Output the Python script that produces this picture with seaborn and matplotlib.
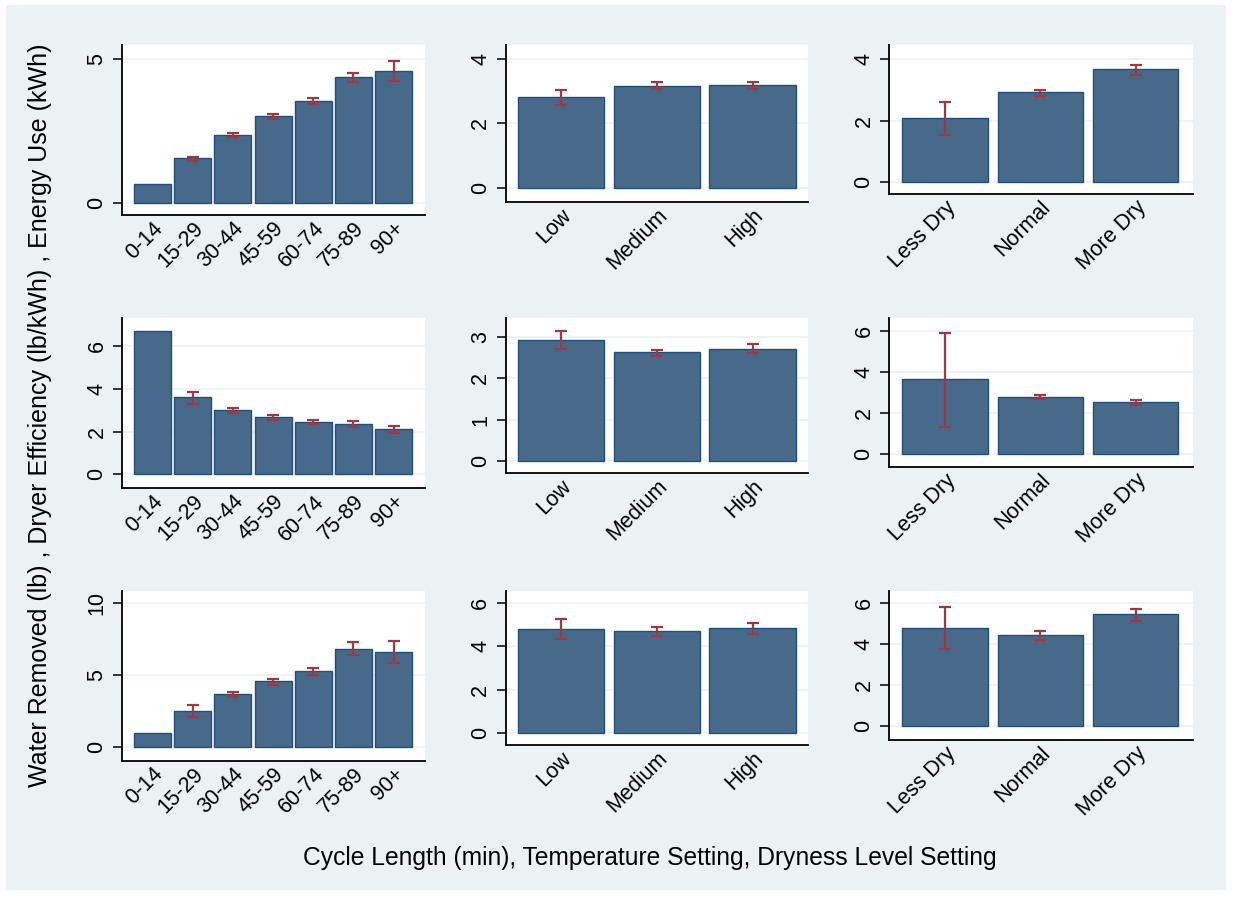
import pandas as pd
import matplotlib.pyplot as plt
import seaborn as sns
from matplotlib.patches import Rectangle

# Categories
cycle_cats = ['0-14', '15-29', '30-44', '45-59', '60-74', '75-89', '90+']
temp_cats = ['Low', 'Medium', 'High']
dry_cats = ['Less Dry', 'Normal', 'More Dry']

# Energy Use (kWh): mean, lower CI, upper CI
energy_cycle = [0.65, 1.55, 2.36, 3.01, 3.55, 4.38, 4.60]
energy_cycle_lo = [0.65, 1.47, 2.28, 2.92, 3.44, 4.20, 4.26]
energy_cycle_hi = [0.65, 1.60, 2.42, 3.10, 3.66, 4.53, 4.93]
energy_temp = [2.81, 3.17, 3.20]
energy_temp_lo = [2.59, 3.08, 3.08]
energy_temp_hi = [3.03, 3.29, 3.29]
energy_dry = [2.07, 2.92, 3.67]
energy_dry_lo = [1.53, 2.81, 3.50]
energy_dry_hi = [2.62, 3.01, 3.83]

# Dryer Efficiency (lb/kWh)
eff_cycle = [6.69, 3.60, 3.01, 2.66, 2.45, 2.34, 2.10]
eff_cycle_lo = [6.69, 3.27, 2.88, 2.54, 2.35, 2.20, 1.92]
eff_cycle_hi = [6.69, 3.86, 3.12, 2.77, 2.52, 2.49, 2.27]
eff_temp = [2.93, 2.63, 2.71]
eff_temp_lo = [2.71, 2.54, 2.62]
eff_temp_hi = [3.15, 2.70, 2.83]
eff_dry = [3.64, 2.76, 2.52]
eff_dry_lo = [1.33, 2.67, 2.37]
eff_dry_hi = [5.92, 2.86, 2.62]

# Water Removed (lb)
water_cycle = [1.02, 2.50, 3.70, 4.58, 5.30, 6.85, 6.60]
water_cycle_lo = [1.02, 2.13, 3.52, 4.33, 5.02, 6.41, 5.86]
water_cycle_hi = [1.02, 2.92, 3.84, 4.77, 5.51, 7.34, 7.41]
water_temp = [4.79, 4.70, 4.84]
water_temp_lo = [4.33, 4.50, 4.58]
water_temp_hi = [5.29, 4.90, 5.07]
water_dry = [4.81, 4.43, 5.46]
water_dry_lo = [3.76, 4.19, 5.15]
water_dry_hi = [5.82, 4.63, 5.72]

y_ticks = {
    (0, 0): [0, 5], (0, 1): [0, 2, 4], (0, 2): [0, 2, 4],
    (1, 0): [0, 2, 4, 6], (1, 1): [0, 1, 2, 3], (1, 2): [0, 2, 4, 6],
    (2, 0): [0, 5, 10], (2, 1): [0, 2, 4, 6], (2, 2): [0, 2, 4, 6],
}
y_lims = {
    (0, 0): (-0.43, 5.5), (0, 1): (-0.436, 4.445), (0, 2): (-0.41, 4.467),
    (1, 0): (-0.655, 7.3), (1, 1): (-0.29, 3.46), (1, 2): (-0.65, 6.63),
    (2, 0): (-0.93, 10.875), (2, 1): (-0.57, 6.58), (2, 2): (-0.70, 6.62),
}

panels = [
    [(cycle_cats, energy_cycle, energy_cycle_lo, energy_cycle_hi),
     (temp_cats, energy_temp, energy_temp_lo, energy_temp_hi),
     (dry_cats, energy_dry, energy_dry_lo, energy_dry_hi)],
    [(cycle_cats, eff_cycle, eff_cycle_lo, eff_cycle_hi),
     (temp_cats, eff_temp, eff_temp_lo, eff_temp_hi),
     (dry_cats, eff_dry, eff_dry_lo, eff_dry_hi)],
    [(cycle_cats, water_cycle, water_cycle_lo, water_cycle_hi),
     (temp_cats, water_temp, water_temp_lo, water_temp_hi),
     (dry_cats, water_dry, water_dry_lo, water_dry_hi)],
]

sns.set_style('white')
plt.rcParams['font.family'] = ['Liberation Sans', 'DejaVu Sans']
plt.rcParams['text.color'] = 'black'
plt.rcParams['xtick.color'] = 'black'
plt.rcParams['ytick.color'] = 'black'
plt.rcParams['axes.labelcolor'] = 'black'

W, H = 1233, 897
fig = plt.figure(figsize=(W / 100, H / 100), dpi=100, facecolor='white')
bg = Rectangle((6 / W, 1 - 890 / H), 1220 / W, 885 / H,
               transform=fig.transFigure, facecolor='#eaf2f3',
               edgecolor='none', zorder=-5)
fig.patches.append(bg)

# axes boxes in pixels: x0, x1 per column; (top, bottom) per row/col
col_x = [(122, 425), (505.7, 808), (889, 1192.7)]
row_y = [
    [(45, 215), (45, 201.7), (45, 194.3)],
    [(318.3, 488.3), (318.3, 472.7), (318, 467.3)],
    [(590.7, 760.7), (590.7, 745), (590.7, 740)],
]
col_xlim = [(-0.76, 6.78), (-0.58, 2.58), (-0.59, 2.6)]
col_width = [0.92, 0.9, 0.9]

bar_fill = '#476a8a'
bar_edge = '#23507a'
err_col = '#9b3a42'

for r in range(3):
    for c in range(3):
        x0, x1 = col_x[c]
        top, bot = row_y[r][c]
        ax = fig.add_axes([x0 / W, 1 - bot / H, (x1 - x0) / W, (bot - top) / H])
        ax.set_zorder(1)
        cats, vals, lo, hi = panels[r][c]
        df = pd.DataFrame({'cat': cats, 'val': vals})
        sns.barplot(data=df, x='cat', y='val', order=cats, color=bar_fill,
                    saturation=1, width=col_width[c], edgecolor=bar_edge,
                    linewidth=1.0, errorbar=None, ax=ax, zorder=2)
        # confidence intervals (skip the degenerate ones)
        for i, (v, l, h) in enumerate(zip(vals, lo, hi)):
            if h - l > 0:
                ax.errorbar(i, v, yerr=[[v - l], [h - v]], fmt='none',
                            ecolor=err_col, elinewidth=1.6, capsize=4.5,
                            capthick=1.6, zorder=3)
        ax.set_xlim(*col_xlim[c])
        ax.set_ylim(*y_lims[(r, c)])
        ax.set_yticks(y_ticks[(r, c)])
        ax.set_facecolor('white')
        ax.set_axisbelow(True)
        ax.yaxis.grid(True, color='#eaf2f3', linewidth=1.2)
        ax.xaxis.grid(False)
        ax.set_xlabel('')
        ax.set_ylabel('')
        for s in ['top', 'right']:
            ax.spines[s].set_visible(False)
        for s in ['left', 'bottom']:
            ax.spines[s].set_color('black')
            ax.spines[s].set_linewidth(1.3)
        ax.tick_params(axis='y', direction='out', length=6.5, width=1.1,
                       color='black', pad=4, labelsize=15.5, left=True)
        ax.tick_params(axis='x', length=0, pad=2, labelsize=15.5)
        for lab in ax.get_yticklabels():
            lab.set_rotation(90)
            lab.set_va('center')
        ax.set_xticks(range(len(cats)))
        ax.set_xticklabels(cats, rotation=45, ha='right', va='top',
                           rotation_mode='anchor')

fig.text(40 / W, 1 - 415 / H,
         'Water Removed (lb) , Dryer Efficiency (lb/kWh) , Energy Use (kWh)',
         rotation=90, ha='center', va='center', fontsize=18)
fig.text(650 / W, 1 - 858 / H,
         'Cycle Length (min), Temperature Setting, Dryness Level Setting',
         ha='center', va='center', fontsize=17.7)

fig.savefig('out.png', dpi=100, facecolor='white')
